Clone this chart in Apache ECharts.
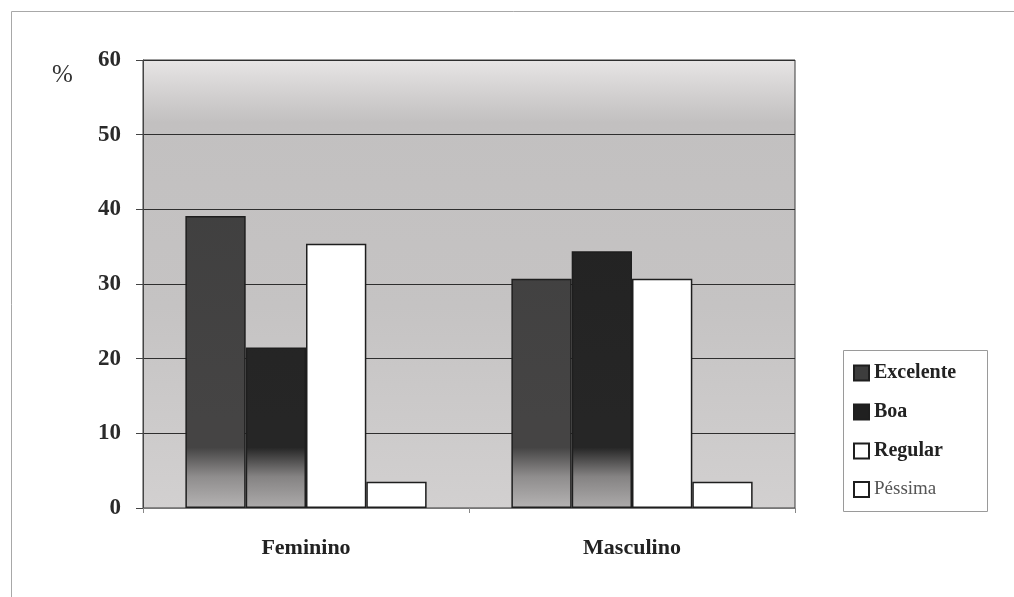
<!DOCTYPE html>
<html>
<head>
<meta charset="utf-8">
<script src="https://cdn.jsdelivr.net/npm/echarts@6/dist/echarts.min.js"></script>
<style>
  html, body { margin: 0; padding: 0; background: #ffffff; }
  #chart { width: 1014px; height: 597px; }
</style>
</head>
<body>
<div id="chart"></div>
<script>
// Self-rated health by sex (%)
const categories = ['Feminino', 'Masculino'];
const seriesNames = ['Excelente', 'Boa', 'Regular', 'Péssima'];
const excelente = [39.1, 30.7];
const boa = [21.5, 34.4];
const regular = [35.4, 30.7];
const pessima = [3.5, 3.5];
const yTicks = [0, 10, 20, 30, 40, 50, 60];

const serif = '"Liberation Serif", "DejaVu Serif", serif';

// Shaded fills that lighten toward the baseline of the plot
function shade(top, mid, low, base) {
  return {
    type: 'linear', x: 0, y: 60, x2: 0, y2: 508, global: true,
    colorStops: [
      { offset: 0, color: top },
      { offset: 0.8, color: mid },
      { offset: 0.865, color: mid },
      { offset: 0.93, color: low },
      { offset: 1, color: base }
    ]
  };
}

const fills = [
  shade('#3d3d3d', '#454444', '#8f8d8d', '#b5b3b3'),
  shade('#202020', '#262626', '#858383', '#adabab'),
  '#ffffff',
  '#ffffff'
];
const values = [excelente, boa, regular, pessima];

const chart = echarts.init(document.getElementById('chart'));
chart.setOption({
  animation: false,
  backgroundColor: '#ffffff',
  grid: {
    left: 143, right: 219, top: 60, bottom: 89,
    show: true,
    borderColor: '#3a3a3a',
    borderWidth: 1,
    backgroundColor: {
      type: 'linear', x: 0, y: 0, x2: 0, y2: 1,
      colorStops: [
        { offset: 0, color: '#e7e5e5' },
        { offset: 0.07, color: '#d4d2d2' },
        { offset: 0.14, color: '#c2c0c0' },
        { offset: 0.55, color: '#c5c3c3' },
        { offset: 1, color: '#d2d0d0' }
      ]
    }
  },
  legend: {
    orient: 'vertical',
    left: 843, top: 350,
    padding: [13, 10, 12, 10],
    itemGap: 19,
    itemWidth: 15, itemHeight: 15,
    icon: 'rect',
    textStyle: { fontFamily: serif, fontSize: 20, lineHeight: 19, fontWeight: 'bold', color: '#222' },
    data: [
      { name: 'Excelente' },
      { name: 'Boa' },
      { name: 'Regular' },
      { name: 'Péssima', textStyle: { fontWeight: 'normal', color: '#555', fontSize: 19 } }
    ]
  },
  xAxis: {
    type: 'category',
    data: categories,
    axisLine: { show: true, lineStyle: { color: '#777', width: 1 } },
    axisTick: { show: true, length: 5, lineStyle: { color: '#888' } },
    axisLabel: { margin: 29, fontFamily: serif, fontSize: 22, fontWeight: 'bold', color: '#222' }
  },
  yAxis: {
    type: 'value',
    min: yTicks[0], max: yTicks[yTicks.length - 1], interval: 10,
    axisLine: { show: true, lineStyle: { color: '#444', width: 1 } },
    axisTick: { show: true, length: 7, lineStyle: { color: '#444' } },
    axisLabel: { margin: 22, fontFamily: serif, fontSize: 23, fontWeight: 'bold', color: '#2a2a2a' },
    splitLine: { show: true, lineStyle: { color: '#2e2e2e', width: 1 } }
  },
  series: seriesNames.map((name, i) => ({
    name: name,
    type: 'bar',
    data: values[i],
    barGap: '0%',
    barCategoryGap: '26%',
    itemStyle: { color: fills[i], borderColor: '#1e1e1e', borderWidth: 1.5 }
  })),
  graphic: [
    {
      type: 'rect', silent: true, z: -10,
      shape: { x: 11.5, y: 11.5, width: 1020, height: 620 },
      style: { fill: 'none', stroke: '#a8a8a8', lineWidth: 1 }
    },
    {
      // legend frame
      type: 'rect', silent: true, z: -5,
      shape: { x: 843.5, y: 350.5, width: 144, height: 161 },
      style: { fill: '#ffffff', stroke: '#9a9a9a', lineWidth: 1 }
    },
    {
      type: 'text', left: 52, top: 63,
      style: { text: '%', font: '25px ' + serif, fill: '#333' }
    }
  ]
});
</script>
</body>
</html>
